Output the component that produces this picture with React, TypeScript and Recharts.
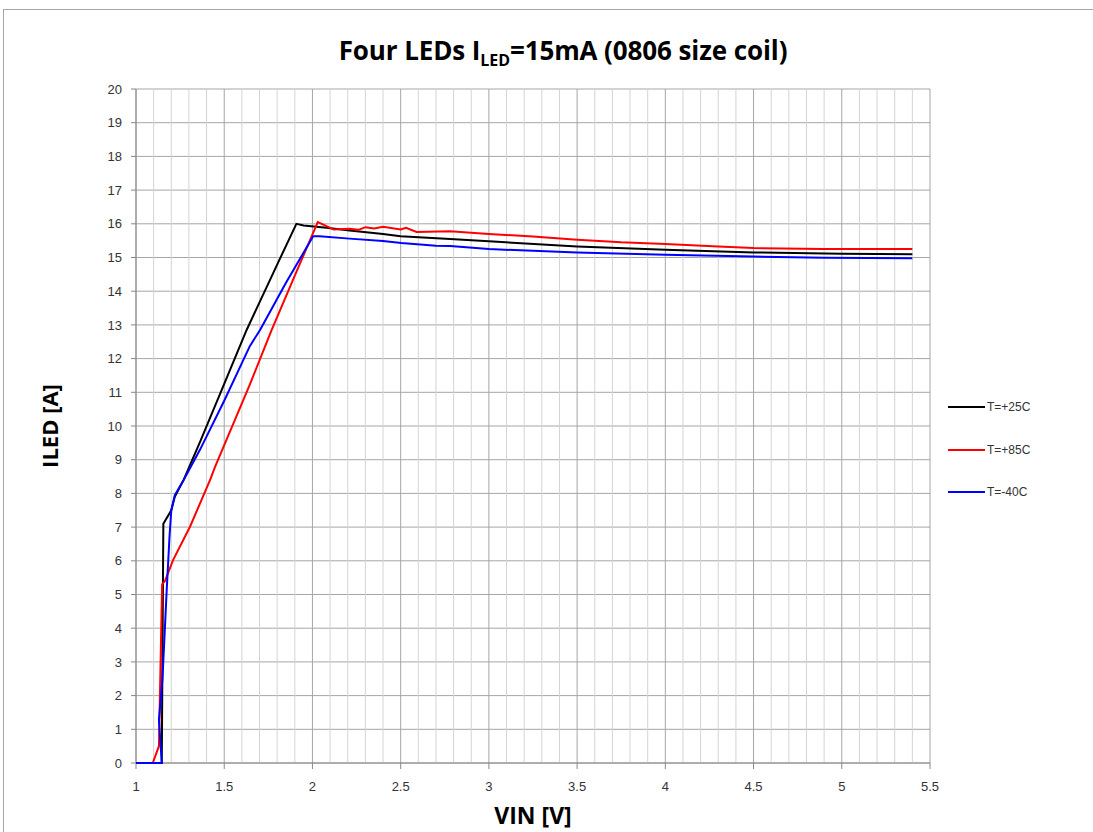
import React from 'react';
import {
  ScatterChart,
  Scatter,
  XAxis,
  YAxis,
  CartesianGrid,
  ReferenceLine,
  Label,
} from 'recharts';

// ---- data ----
const xTicks = [1, 1.5, 2, 2.5, 3, 3.5, 4, 4.5, 5, 5.5];
const yTicks = [0, 1, 2, 3, 4, 5, 6, 7, 8, 9, 10, 11, 12, 13, 14, 15, 16, 17, 18, 19, 20];
const xMinorGrid = [
  1.1, 1.2, 1.3, 1.4, 1.6, 1.7, 1.8, 1.9, 2.1, 2.2, 2.3, 2.4, 2.6, 2.7, 2.8, 2.9,
  3.1, 3.2, 3.3, 3.4, 3.6, 3.7, 3.8, 3.9, 4.1, 4.2, 4.3, 4.4, 4.6, 4.7, 4.8, 4.9,
  5.1, 5.2, 5.3, 5.4,
];

const seriesNames = ['T=+25C', 'T=+85C', 'T=-40C'];
const seriesColors = ['#000000', '#ff0000', '#0000ff'];

const t25 = [
  { x: 1.0, y: 0 }, { x: 1.146, y: 0 }, { x: 1.155, y: 7.1 }, { x: 1.2, y: 7.5 },
  { x: 1.22, y: 7.9 }, { x: 1.27, y: 8.4 }, { x: 1.363, y: 9.53 }, { x: 1.5, y: 11.25 },
  { x: 1.627, y: 12.85 }, { x: 1.7, y: 13.67 }, { x: 1.8, y: 14.79 }, { x: 1.909, y: 16.0 },
  { x: 1.95, y: 15.95 }, { x: 2.08, y: 15.88 }, { x: 2.21, y: 15.8 }, { x: 2.4, y: 15.7 },
  { x: 2.5, y: 15.63 }, { x: 2.78, y: 15.55 }, { x: 3.0, y: 15.48 }, { x: 3.5, y: 15.33 },
  { x: 4.0, y: 15.23 }, { x: 4.5, y: 15.15 }, { x: 5.0, y: 15.11 }, { x: 5.4, y: 15.1 },
];

const t85 = [
  { x: 1.0, y: 0 }, { x: 1.095, y: 0 }, { x: 1.13, y: 0.5 }, { x: 1.148, y: 5.3 },
  { x: 1.164, y: 5.4 }, { x: 1.21, y: 6.02 }, { x: 1.306, y: 7.01 }, { x: 1.42, y: 8.4 },
  { x: 1.448, y: 8.79 }, { x: 1.645, y: 11.23 }, { x: 1.769, y: 12.85 }, { x: 1.9, y: 14.46 },
  { x: 2.03, y: 16.05 }, { x: 2.08, y: 15.93 }, { x: 2.12, y: 15.83 }, { x: 2.21, y: 15.85 },
  { x: 2.26, y: 15.82 }, { x: 2.3, y: 15.9 }, { x: 2.35, y: 15.86 }, { x: 2.4, y: 15.91 },
  { x: 2.5, y: 15.83 }, { x: 2.53, y: 15.88 }, { x: 2.59, y: 15.76 },
  { x: 2.78, y: 15.78 }, { x: 3.0, y: 15.7 }, { x: 3.25, y: 15.62 }, { x: 3.5, y: 15.53 },
  { x: 3.75, y: 15.45 }, { x: 4.0, y: 15.4 }, { x: 4.3, y: 15.33 }, { x: 4.5, y: 15.28 },
  { x: 4.9, y: 15.25 }, { x: 5.4, y: 15.25 },
];

const tm40 = [
  { x: 1.0, y: 0 }, { x: 1.146, y: 0 }, { x: 1.13, y: 1.28 }, { x: 1.15, y: 2.5 },
  { x: 1.174, y: 5.13 }, { x: 1.19, y: 6.72 }, { x: 1.2, y: 7.5 }, { x: 1.22, y: 7.95 },
  { x: 1.27, y: 8.4 }, { x: 1.363, y: 9.3 }, { x: 1.5, y: 10.75 }, { x: 1.645, y: 12.37 },
  { x: 1.703, y: 12.85 }, { x: 1.85, y: 14.25 }, { x: 2.004, y: 15.63 }, { x: 2.04, y: 15.63 },
  { x: 2.21, y: 15.56 }, { x: 2.4, y: 15.49 }, { x: 2.504, y: 15.43 }, { x: 2.7, y: 15.35 },
  { x: 2.78, y: 15.34 }, { x: 3.0, y: 15.25 }, { x: 3.5, y: 15.15 }, { x: 4.0, y: 15.08 },
  { x: 4.5, y: 15.03 }, { x: 4.9, y: 14.99 }, { x: 5.4, y: 14.98 },
];

const seriesData = [t25, t85, tm40];

const labelFont = '"Open Sans", sans-serif';
const tickFont = '"Liberation Sans", "DejaVu Sans", sans-serif';

const NoDot = () => <g />;

export default function App() {
  return (
    <div style={{ position: 'absolute', left: 0, top: 0, width: 1093, height: 832, overflow: 'hidden', background: '#fff' }}>
      <div style={{ position: 'absolute', left: 3, top: 9, width: 1200, height: 1000, border: '1px solid #a6a6a6' }} />
      <div
        style={{
          position: 'absolute',
          left: 0,
          top: 32,
          width: 1126,
          textAlign: 'center',
          fontFamily: labelFont,
          fontWeight: 'bold',
          fontSize: 26,
          letterSpacing: -0.1,
          color: '#000',
        }}
      >
        Four LEDs I<sub style={{ fontSize: 16, verticalAlign: -6 }}>LED</sub>=15mA (0806 size coil)
      </div>
      <div style={{ position: 'absolute', left: 0, top: 0 }}>
        <ScatterChart width={1093} height={832} margin={{ top: 89, right: 163, bottom: 19, left: 36 }}>
          <CartesianGrid stroke="#a6a6a6" strokeWidth={1} />
          {xMinorGrid.map((v) => (
            <ReferenceLine key={v} x={v} stroke="#d4d4d4" strokeWidth={1} />
          ))}
          <XAxis
            type="number"
            dataKey="x"
            domain={[1, 5.5]}
            ticks={xTicks}
            interval={0}
            stroke="#888"
            tickSize={6}
            tick={{ fill: '#333', fontSize: 13, fontFamily: tickFont }}
            tickMargin={13}
            height={50}
          >
            <Label
              content={({ viewBox }: any) => (
                <text
                  x={viewBox.x + viewBox.width / 2}
                  y={824}
                  textAnchor="middle"
                  fontFamily={labelFont}
                  fontWeight="bold"
                  fontSize={23}
                  fill="#000"
                >
                  VIN [V]
                </text>
              )}
            />
          </XAxis>
          <YAxis
            type="number"
            dataKey="y"
            domain={[0, 20]}
            ticks={yTicks}
            interval={0}
            stroke="#888"
            tickSize={5}
            tick={{ fill: '#333', fontSize: 13, fontFamily: tickFont }}
            tickMargin={9}
            width={100}
          >
            <Label
              content={({ viewBox }: any) => (
                <text
                  x={49}
                  y={viewBox.y + viewBox.height / 2}
                  transform={`rotate(-90, 49, ${viewBox.y + viewBox.height / 2})`}
                  textAnchor="middle"
                  dominantBaseline="central"
                  fontFamily={labelFont}
                  fontWeight="bold"
                  fontSize={22}
                  fill="#000"
                >
                  ILED [A]
                </text>
              )}
            />
          </YAxis>
          {seriesData.map((d, i) => (
            <Scatter
              key={seriesNames[i]}
              name={seriesNames[i]}
              data={d}
              fill="none"
              line={{ stroke: seriesColors[i], strokeWidth: 2 }}
              lineType="joint"
              shape={<NoDot />}
              isAnimationActive={false}
            />
          ))}
        </ScatterChart>
      </div>
      <div style={{ position: 'absolute', left: 948, top: 386, width: 130, fontFamily: tickFont, fontSize: 12, color: '#333' }}>
        {seriesNames.map((n, i) => (
          <div key={n} style={{ display: 'flex', alignItems: 'center', height: 42.5 }}>
            <div style={{ width: 37, height: 2, background: seriesColors[i], marginRight: 2 }} />
            <span>{n}</span>
          </div>
        ))}
      </div>
    </div>
  );
}
